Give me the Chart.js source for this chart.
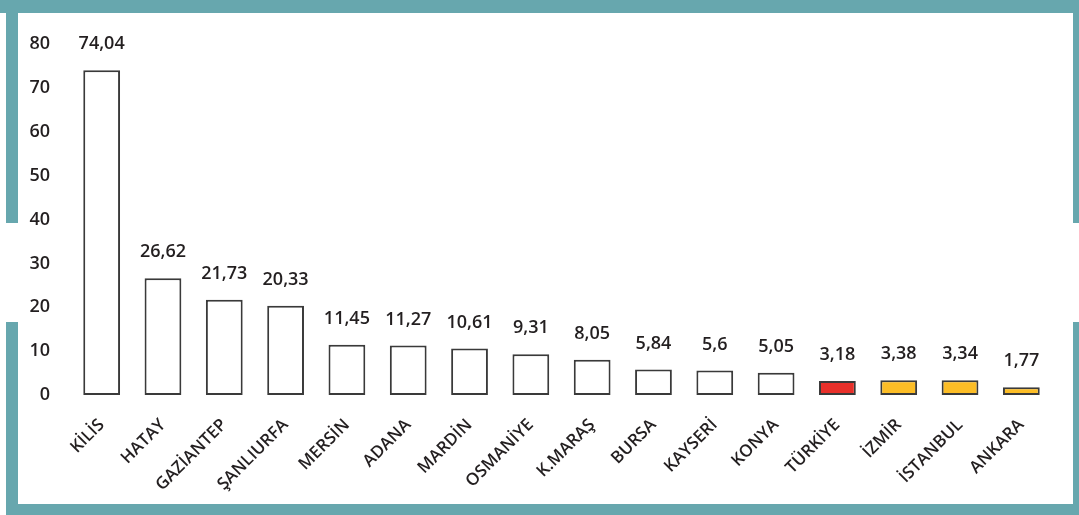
<!DOCTYPE html>
<html lang="tr">
<head>
<meta charset="utf-8">
<title>İllere göre oran</title>
<script src="https://cdn.jsdelivr.net/npm/chart.js@4"></script>
<style>
  html, body { margin: 0; padding: 0; background: #fff; }
  #wrap { position: relative; width: 1079px; height: 515px; overflow: hidden; }
  #chart { position: absolute; left: 0; top: 0; }
  .band { position: absolute; background: #67a7ae; }
</style>
</head>
<body>
<div id="wrap">
  <canvas id="chart" width="1079" height="515"></canvas>
  <!-- çerçeve -->
  <div class="band" style="left:0;top:0;width:1079px;height:13px"></div>
  <div class="band" style="left:6px;top:13px;width:12px;height:210px"></div>
  <div class="band" style="left:6px;top:322px;width:12px;height:193px"></div>
  <div class="band" style="left:1073px;top:13px;width:6px;height:210px"></div>
  <div class="band" style="left:1073px;top:322px;width:6px;height:193px"></div>
  <div class="band" style="left:6px;top:504px;width:1073px;height:11px"></div>
</div>
<script>
// İller ve değerleri
const iller = ['KİLİS', 'HATAY', 'GAZİANTEP', 'ŞANLIURFA', 'MERSİN', 'ADANA', 'MARDİN', 'OSMANİYE',
  'K.MARAŞ', 'BURSA', 'KAYSERİ', 'KONYA', 'TÜRKİYE', 'İZMİR', 'İSTANBUL', 'ANKARA'];
const degerler = [74.04, 26.62, 21.73, 20.33, 11.45, 11.27, 10.61, 9.31, 8.05, 5.84, 5.6, 5.05, 3.18, 3.38, 3.34, 1.77];
const yEksenEtiketleri = [0, 10, 20, 30, 40, 50, 60, 70, 80];

// Türkiye kırmızı, büyük şehirler sarı, diğerleri beyaz
const renkler = iller.map(il => {
  if (il === 'TÜRKİYE') return '#e8302a';
  if (il === 'İZMİR' || il === 'İSTANBUL' || il === 'ANKARA') return '#fcbd26';
  return '#ffffff';
});

const yazi = '"Open Sans", sans-serif';

// Çubukların üstüne değer yazan eklenti (virgüllü)
const degerYazisi = {
  id: 'degerYazisi',
  afterDatasetsDraw(chart) {
    const ctx = chart.ctx;
    const meta = chart.getDatasetMeta(0);
    ctx.save();
    ctx.font = '600 18px ' + yazi;
    ctx.fillStyle = '#231f20';
    ctx.textAlign = 'center';
    ctx.textBaseline = 'middle';
    meta.data.forEach((bar, i) => {
      const metin = String(degerler[i]).replace('.', ',');
      ctx.fillText(metin, bar.x, bar.y - 26);
    });
    ctx.restore();
  }
};

const ctx = document.getElementById('chart').getContext('2d');
new Chart(ctx, {
  type: 'bar',
  data: {
    labels: iller,
    datasets: [{
      data: degerler,
      backgroundColor: renkler,
      borderColor: '#3a3a3a',
      borderWidth: 2,
      borderSkipped: false,
      barPercentage: 0.6,
      categoryPercentage: 1
    }]
  },
  options: {
    responsive: false,
    animation: false,
    layout: { padding: { top: 44, right: 27, bottom: 0, left: 0 } },
    plugins: {
      legend: { display: false },
      tooltip: { enabled: false }
    },
    scales: {
      x: {
        grid: { display: false, drawTicks: false },
        border: { display: false },
        ticks: {
          autoSkip: false,
          maxRotation: 45,
          minRotation: 45,
          padding: 20,
          color: '#231f20',
          font: { family: yazi, size: 17, weight: '600' }
        },
        afterFit(scale) { scale.height = 120; }
      },
      y: {
        min: 0,
        max: 80,
        grid: { display: false, drawTicks: false },
        border: { display: false },
        afterBuildTicks(scale) { scale.ticks = yEksenEtiketleri.map(v => ({ value: v })); },
        ticks: {
          padding: 21,
          color: '#231f20',
          font: { family: yazi, size: 18, weight: '600' }
        },
        afterFit(scale) { scale.width = 71; }
      }
    }
  },
  plugins: [degerYazisi]
});
</script>
</body>
</html>
